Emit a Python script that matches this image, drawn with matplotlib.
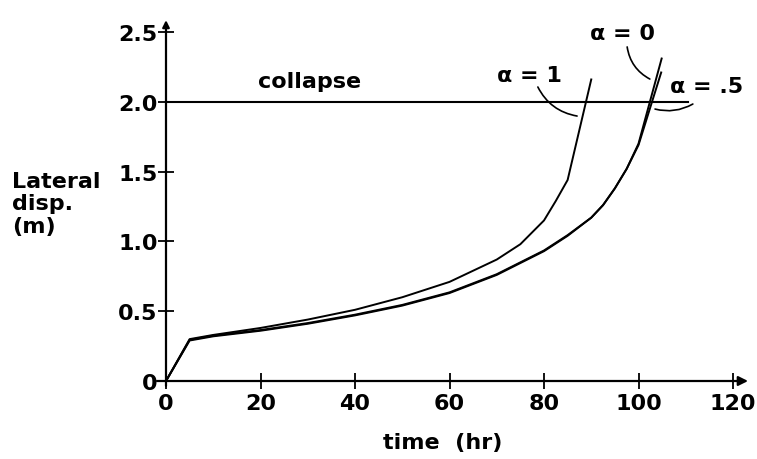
import matplotlib
matplotlib.use("Agg")
import matplotlib.pyplot as plt

# ---- data ----
t_a1 = [0, 5, 10, 20, 30, 40, 50, 60, 70, 75, 80, 82.5, 85, 90]
y_a1 = [0, 0.30, 0.33, 0.38, 0.44, 0.51, 0.60, 0.71, 0.87, 0.98, 1.15, 1.29, 1.44, 2.16]

t_a0 = [0, 5, 10, 20, 30, 40, 50, 60, 70, 80, 85, 90, 92.5, 95, 97.5, 100, 104.9]
y_a0 = [0, 0.29, 0.32, 0.36, 0.41, 0.47, 0.54, 0.63, 0.76, 0.93, 1.04, 1.17, 1.26, 1.38, 1.52, 1.70, 2.31]

t_a05 = [0, 5, 10, 20, 30, 40, 50, 60, 70, 80, 85, 90, 92.5, 95, 97.5, 100, 104.8]
y_a05 = [0, 0.295, 0.325, 0.365, 0.415, 0.475, 0.545, 0.635, 0.765, 0.935, 1.045, 1.17, 1.26, 1.38, 1.52, 1.69, 2.21]

collapse_level = 2.0
collapse_t = [0, 110.5]

x_ticks = [0, 20, 40, 60, 80, 100, 120]
x_ticklabels = ["0", "20", "40", "60", "80", "100", "120"]
y_ticks = [0, 0.5, 1.0, 1.5, 2.0, 2.5]
y_ticklabels = ["0", "0.5", "1.0", "1.5", "2.0", "2.5"]

plt.rcParams['font.family'] = ['DejaVu Sans']
plt.rcParams['font.weight'] = 'bold'
FS = 16

fig = plt.figure(figsize=(7.57, 4.6), dpi=100)
ax = fig.add_axes([166/757, 1-382/460, 567/757, 349/460])
ax.set_xlim(0, 120)
ax.set_ylim(0, 2.5)
for s in ax.spines.values():
    s.set_visible(False)

lw = 1.4
ax.plot(t_a1, y_a1, color='black', lw=lw, clip_on=False)
ax.plot(t_a0, y_a0, color='black', lw=lw, clip_on=False)
ax.plot(t_a05, y_a05, color='black', lw=lw, clip_on=False)
ax.plot(collapse_t, [collapse_level]*len(collapse_t), color='black', lw=1.5, clip_on=False)

# axes with arrows
ax.annotate('', xy=(1.0265, 0), xytext=(-0.016, 0), xycoords='axes fraction',
            arrowprops=dict(arrowstyle='-|>', color='black', lw=1.6, mutation_scale=14,
                            shrinkA=0, shrinkB=0), annotation_clip=False)
ax.annotate('', xy=(0, 1.034), xytext=(0, -0.014), xycoords='axes fraction',
            arrowprops=dict(arrowstyle='-|>', color='black', lw=1.6, mutation_scale=10,
                            shrinkA=0, shrinkB=0), annotation_clip=False)

ax.set_xticks(x_ticks)
ax.set_xticklabels(x_ticklabels, fontsize=FS, fontweight='bold')
ax.set_yticks(y_ticks)
ax.set_yticklabels(y_ticklabels, fontsize=FS, fontweight='bold')
ax.tick_params(axis='x', direction='inout', length=12, width=1.3, pad=3)
ax.tick_params(axis='y', direction='inout', length=12, width=1.3, pad=0)

fig.text(443/757, 1-443/460, 'time  (hr)', ha='center', va='center', fontsize=FS,
         fontweight='bold')
fig.text(12/757, 1-172/460, 'Lateral\ndisp.\n(m)', ha='left', va='top', fontsize=FS,
         fontweight='bold', linespacing=1.15)

ax.text(19.5, 2.15, 'collapse', ha='left', va='center', fontsize=FS, fontweight='bold')
ax.text(77.0, 2.19, 'α = 1', ha='center', va='center', fontsize=FS, fontweight='bold')
ax.text(96.7, 2.49, 'α = 0', ha='center', va='center', fontsize=FS, fontweight='bold')
ax.text(114.3, 2.11, 'α = .5', ha='center', va='center', fontsize=FS, fontweight='bold')

lead = dict(arrowstyle='-', color='black', lw=1.2, shrinkA=0, shrinkB=0)
ax.annotate('', xy=(87.0, 1.898), xytext=(78.7, 2.106),
            arrowprops=dict(connectionstyle='arc3,rad=0.25', **lead), annotation_clip=False)
ax.annotate('', xy=(102.4, 2.163), xytext=(97.6, 2.393),
            arrowprops=dict(connectionstyle='arc3,rad=0.25', **lead), annotation_clip=False)
ax.annotate('', xy=(103.5, 1.948), xytext=(111.5, 1.984),
            arrowprops=dict(connectionstyle='arc3,rad=-0.2', **lead), annotation_clip=False)

fig.savefig('out.png', dpi=100)
